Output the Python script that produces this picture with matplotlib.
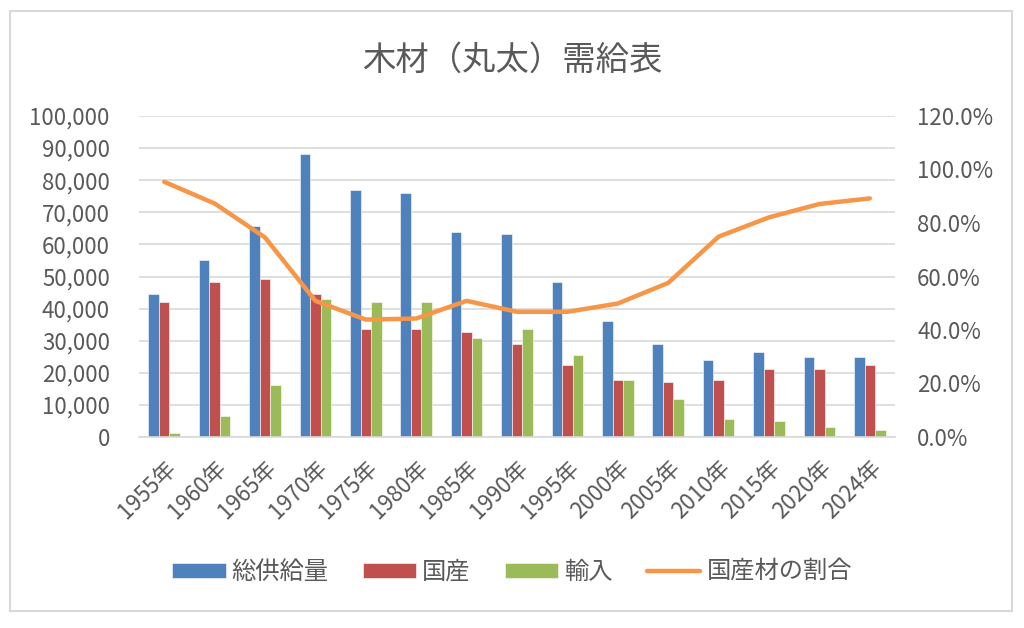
import numpy as np
import matplotlib.pyplot as plt
from matplotlib.patches import Rectangle
from matplotlib.ticker import FuncFormatter, MultipleLocator

plt.rcParams['font.family'] = ['Noto Sans CJK JP', 'DejaVu Sans']

# データ
years = ["1955年", "1960年", "1965年", "1970年", "1975年", "1980年", "1985年", "1990年",
         "1995年", "2000年", "2005年", "2010年", "2015年", "2020年", "2024年"]
total = [44700, 55200, 65600, 88200, 76900, 76100, 63900, 63100,
         48300, 36100, 29100, 23900, 26600, 24800, 24800]
domestic = [42100, 48300, 49100, 44700, 33500, 33500, 32700, 29100,
            22300, 17900, 17100, 17900, 21300, 21300, 22300]
imports = [1400, 6600, 16100, 43000, 42100, 42100, 30900, 33500,
           25700, 17900, 11900, 5700, 4900, 3100, 2300]
ratio = [95.4, 87.3, 74.6, 50.9, 43.9, 44.3, 50.9, 46.8,
         46.8, 49.9, 57.6, 74.9, 82.1, 87.1, 89.2]

TEXT = "#595959"
C_BLUE = "#4F81BD"
C_RED = "#C0504D"
C_GREEN = "#9BBB59"
C_ORANGE = "#F79646"

fig = plt.figure(figsize=(10.24, 6.28), dpi=100)
fig.patches.append(Rectangle((10 / 1024, 1 - 611 / 628), 1002 / 1024, 600 / 628,
                             transform=fig.transFigure, fill=False,
                             edgecolor="#d9d9d9", linewidth=1.5))

ax = fig.add_axes([139 / 1024, 1 - 437 / 628, 756 / 1024, 321 / 628])
ax2 = ax.twinx()

x = np.arange(len(years))
w = 0.21
ax.bar(x - w, total, w, color=C_BLUE, edgecolor="white", linewidth=0.4, label="総供給量", zorder=2)
ax.bar(x, domestic, w, color=C_RED, edgecolor="white", linewidth=0.4, label="国産", zorder=2)
ax.bar(x + w, imports, w, color=C_GREEN, edgecolor="white", linewidth=0.4, label="輸入", zorder=2)

ax2.plot(x, ratio, color=C_ORANGE, linewidth=3.2, solid_capstyle="round",
         solid_joinstyle="round", label="国産材の割合")

ax.set_xlim(-0.5, len(years) - 0.5)
ax.set_ylim(0, 100000)
ax.yaxis.set_major_locator(MultipleLocator(10000))
ax.yaxis.set_major_formatter(FuncFormatter(lambda v, p: f"{int(v):,}"))
ax2.set_ylim(0, 120)
ax2.yaxis.set_major_locator(MultipleLocator(20))
ax2.yaxis.set_major_formatter(FuncFormatter(lambda v, p: f"{v:.1f}%"))

ax.grid(axis="y", color="#d9d9d9", linewidth=1.2, zorder=0)
ax.set_axisbelow(True)
for a in (ax, ax2):
    for s in a.spines.values():
        s.set_visible(False)
ax.spines["bottom"].set_visible(True)
ax.spines["bottom"].set_color("#d9d9d9")
ax.spines["bottom"].set_linewidth(1.2)

ax.set_xticks(x)
ax.set_xticklabels(years, rotation=45, ha="right", rotation_mode="anchor")
ax.tick_params(axis="x", length=0, pad=14, labelsize=16, labelcolor=TEXT)
ax.tick_params(axis="y", length=0, pad=21, labelsize=16, labelcolor=TEXT)
ax2.tick_params(axis="y", length=0, pad=16, labelsize=16, labelcolor=TEXT)

fig.text(0.5, 1 - 60 / 628, "木材（丸太）需給表", ha="center", va="center",
         fontsize=24, color=TEXT)

h1, l1 = ax.get_legend_handles_labels()
h2, l2 = ax2.get_legend_handles_labels()
fig.legend(h1 + h2, l1 + l2, loc="center", bbox_to_anchor=(0.5, 1 - 572 / 628),
           ncol=4, frameon=False, fontsize=17.5, labelcolor=TEXT,
           handlelength=2.2, handleheight=0.55, handletextpad=0.25, columnspacing=1.4)

fig.savefig("out.png", dpi=100)
